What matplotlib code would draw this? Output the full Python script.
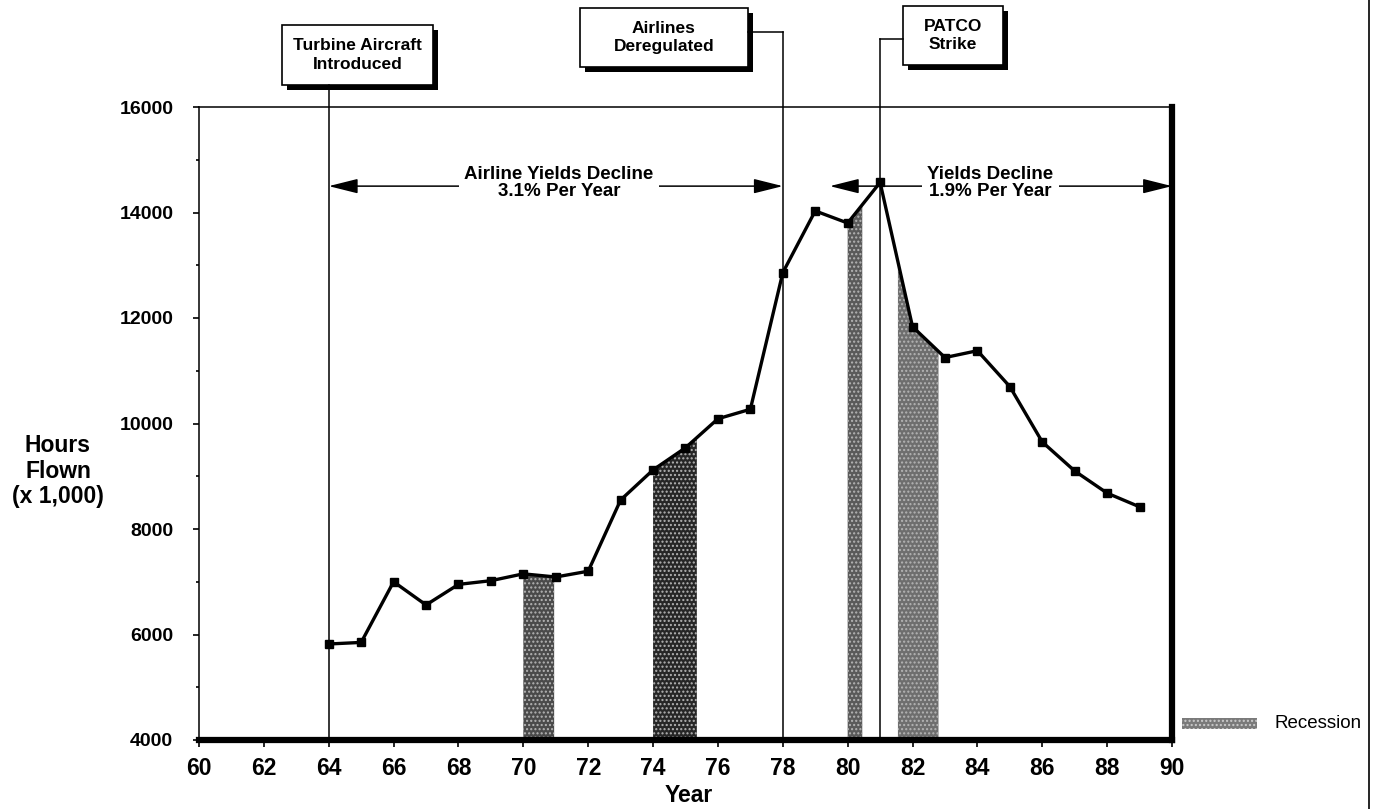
import numpy as np
import matplotlib.pyplot as plt
from matplotlib.patches import Rectangle, Polygon
from matplotlib.lines import Line2D


# data
years = [64, 65, 66, 67, 68, 69, 70, 71, 72, 73, 74, 75, 76,
         77, 78, 79, 80, 81, 82, 83, 84, 85, 86, 87, 88, 89]
hours = [5820, 5850, 7000, 6560, 6950, 7020, 7150, 7090, 7200, 8550, 9120, 9540, 10090,
         10270, 12860, 14030, 13800, 14570, 11835, 11250, 11380, 10700, 9650, 9100, 8680, 8420]

recession_start = [70.0, 74.0, 80.0, 81.55]
recession_end = [70.95, 75.35, 80.45, 82.8]
recession_shade = ["#4a4a4a", "#262626", "#5a5a5a", "#6e6e6e"]

event_years = [64, 78, 81]
event_labels = ["Turbine Aircraft\nIntroduced", "Airlines\nDeregulated", "PATCO\nStrike"]

period_from = [64, 79.45]
period_to = [78, 90]
period_level = [14500, 14500]
period_center = [71.1, 84.4]
period_labels = ["Airline Yields Decline\n3.1% Per Year", "Yields Decline\n1.9% Per Year"]

x_ticks = list(range(60, 91, 2))
y_ticks = list(range(4000, 16001, 2000))

W, H = 1375, 809
FONT = "Liberation Sans"

plt.rcParams.update({"font.family": FONT, "font.weight": "bold"})

fig = plt.figure(figsize=(W / 100, H / 100), dpi=100)
ax = fig.add_axes([199 / W, 1 - 740 / H, (1172 - 199) / W, (740 - 107) / H])
ax.set_xlim(60, 90)
ax.set_ylim(4000, 16000)


def fx(px):
    return px / W


def fy(py):
    return 1 - py / H


# recession bands under the curve
for x0, x1, shade in zip(recession_start, recession_end, recession_shade):
    inner = [y for y in years if x0 < y < x1]
    xs = [x0] + inner + [x1]
    ys = list(np.interp(xs, years, hours))
    poly = Polygon(list(zip(xs, ys)) + [(x1, 4000), (x0, 4000)], closed=True,
                   facecolor=shade, edgecolor="#b4b4b4", hatch="....", linewidth=0, zorder=1)
    ax.add_patch(poly)

ax.plot(years, hours, color="black", linewidth=2.4, marker="s", markersize=5.5, zorder=4)

# event marker lines and boxes (box geometry in figure pixels)
box_px = [(282, 433, 25, 85), (580, 748, 8, 67), (903, 1003, 6, 65)]
connector_y = [None, 32, 39]
for yr, label, (l, r, t, b), cy in zip(event_years, event_labels, box_px, connector_y):
    ex = ax.transData.transform((yr, 4000))[0]
    top = b if cy is None else cy
    fig.add_artist(Line2D([fx(ex), fx(ex)], [fy(740), fy(top)], transform=fig.transFigure,
                          color="black", linewidth=1.1, zorder=2))
    if cy is not None:
        edge = r if ex > r else l
        fig.add_artist(Line2D([fx(edge), fx(ex)], [fy(cy), fy(cy)], transform=fig.transFigure,
                              color="black", linewidth=1.1))
    fig.add_artist(Rectangle((fx(l + 5), fy(b + 5)), fx(r - l), (b - t) / H,
                             transform=fig.transFigure, facecolor="black", edgecolor="none"))
    fig.add_artist(Rectangle((fx(l), fy(b)), fx(r - l), (b - t) / H,
                             transform=fig.transFigure, facecolor="white", edgecolor="black",
                             linewidth=1.2))
    fig.text(fx((l + r) / 2), fy((t + b) / 2), label, ha="center", va="center",
             fontsize=12.5, fontweight="bold", linespacing=1.3)

# yield decline arrows
for x0, x1, lvl, xc, label in zip(period_from, period_to, period_level, period_center, period_labels):
    for end in (x0, x1):
        ax.annotate("", xy=(end, lvl), xytext=(xc, lvl),
                    arrowprops=dict(arrowstyle="-|>,head_length=1.8,head_width=0.45",
                                    mutation_scale=10, color="black", linewidth=1.1,
                                    shrinkA=0, shrinkB=0),
                    zorder=3, annotation_clip=False)
    ax.text(xc, lvl + 60, label, ha="center", va="center", fontsize=13.5, fontweight="bold",
            linespacing=1.0, zorder=5,
            bbox=dict(boxstyle="square,pad=0.3", facecolor="white", edgecolor="none"))

ax.set_xticks(x_ticks)
ax.set_yticks(y_ticks)
ax.set_yticks(range(5000, 16000, 2000), minor=True)
ax.tick_params(axis="x", direction="out", length=5, width=1.2, pad=7, labelsize=16.5)
ax.tick_params(axis="y", direction="out", length=4.5, width=1.2, pad=14, labelsize=14)
ax.tick_params(axis="y", which="minor", direction="out", length=2.5, width=1.2)
for lab in ax.get_xticklabels() + ax.get_yticklabels():
    lab.set_fontweight("bold")

for side in ("top", "left"):
    ax.spines[side].set_linewidth(1.1)
for side in ("right", "bottom"):
    ax.spines[side].set_linewidth(4.5)

fig.text(fx(58), fy(471), "Hours\nFlown\n(x 1,000)", ha="center", va="center",
         fontsize=16.5, fontweight="bold", linespacing=1.15)
fig.text(fx(689), fy(795), "Year", ha="center", va="center", fontsize=16.5, fontweight="bold")

# recession legend
fig.add_artist(Rectangle((fx(1182), fy(729)), fx(75), 11 / H, transform=fig.transFigure,
                         facecolor="#7a7a7a", edgecolor="#cccccc", hatch="....", linewidth=0))
fig.text(fx(1275), fy(724), "Recession", ha="left", va="center", fontsize=13.5,
         fontweight="normal")

# page edge from the scan
fig.add_artist(Line2D([fx(1369), fx(1369)], [0, 1], transform=fig.transFigure,
                      color="black", linewidth=1.2))

fig.savefig("out.png", dpi=100, facecolor="white")
